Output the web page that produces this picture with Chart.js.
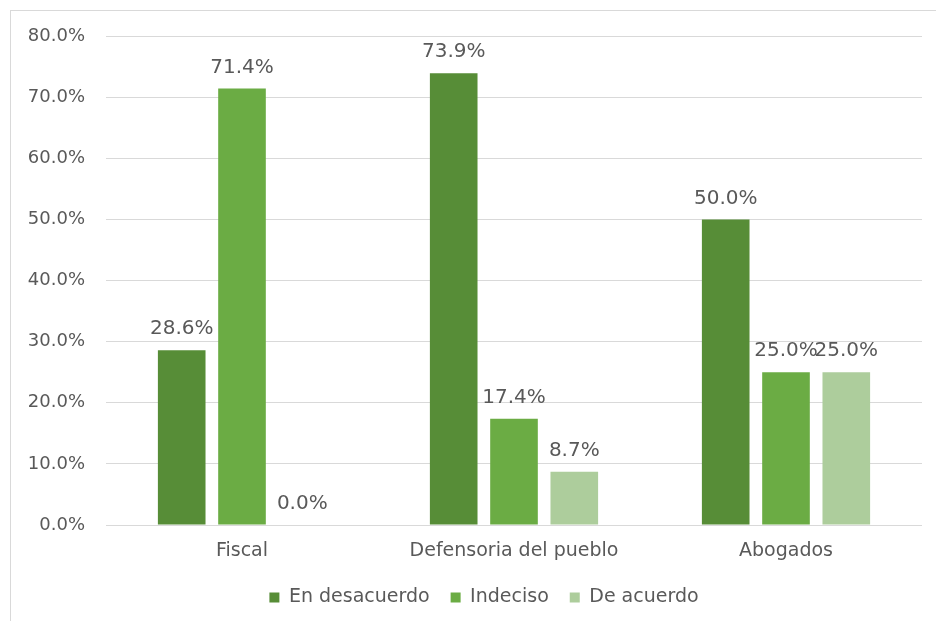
<!DOCTYPE html>
<html>
<head>
<meta charset="utf-8">
<script src="https://cdn.jsdelivr.net/npm/chart.js@4/dist/chart.umd.min.js"></script>
<style>
  html, body { margin: 0; padding: 0; background: #fff; overflow: hidden; }
  #frame { position: absolute; left: 10px; top: 10px; width: 940px; height: 630px; border: 1px solid #d9d9d9; }
  #wrap { position: absolute; left: 0; top: 0; width: 936px; height: 621px; }
</style>
</head>
<body>
<div id="frame"></div>
<div id="wrap"><canvas id="chart"></canvas></div>
<script>
const categories = ['Fiscal', 'Defensoria del pueblo', 'Abogados'];
const enDesacuerdo = [28.6, 73.9, 50.0];
const indeciso = [71.4, 17.4, 25.0];
const deAcuerdo = [0.0, 8.7, 25.0];
const yTicks = [0, 10, 20, 30, 40, 50, 60, 70, 80];

const FONT = 'DejaVu Sans';
const TEXT = '#595959';

// value labels above every bar
const barLabels = {
    id: 'barLabels',
    afterDatasetsDraw(chart) {
        const ctx = chart.ctx;
        ctx.save();
        ctx.font = '20px ' + FONT;
        ctx.fillStyle = TEXT;
        ctx.textAlign = 'center';
        ctx.textBaseline = 'bottom';
        chart.data.datasets.forEach((ds, i) => {
            chart.getDatasetMeta(i).data.forEach((bar, j) => {
                ctx.fillText(ds.data[j].toFixed(1) + '%', bar.x, bar.y - 11);
            });
        });
        ctx.restore();
    }
};

// the legend sits a bit right of centre in the original
const shiftLegend = {
    id: 'shiftLegend',
    afterLayout(chart) {
        if (chart.legend) chart.legend.left = 46;
    }
};

const ctx = document.getElementById('chart').getContext('2d');
new Chart(ctx, {
    type: 'bar',
    data: {
        labels: categories,
        datasets: [
            { label: 'En desacuerdo', data: enDesacuerdo, backgroundColor: '#578d37' },
            { label: 'Indeciso', data: indeciso, backgroundColor: '#6bac44' },
            { label: 'De acuerdo', data: deAcuerdo, backgroundColor: '#adcd9c' }
        ]
    },
    options: {
        responsive: true,
        maintainAspectRatio: false,
        animation: false,
        datasets: { bar: { categoryPercentage: 0.665, barPercentage: 0.79 } },
        layout: { padding: { top: 36, right: 14, bottom: 4, left: 0 } },
        scales: {
            y: {
                min: 0,
                max: 80,
                afterBuildTicks: s => { s.ticks = yTicks.map(v => ({ value: v })); },
                afterFit: s => { s.width = 106; },
                border: { display: false },
                grid: { color: '#d9d9d9', drawTicks: false },
                ticks: {
                    color: TEXT,
                    font: { family: FONT, size: 18 },
                    padding: 21,
                    callback: v => v.toFixed(1) + '%'
                }
            },
            x: {
                afterFit: s => { s.height = 42; },
                border: { display: false },
                grid: { display: false, drawTicks: false },
                ticks: { color: TEXT, font: { family: FONT, size: 19 }, padding: 15 }
            }
        },
        plugins: {
            legend: {
                position: 'bottom',
                labels: {
                    color: TEXT,
                    font: { family: FONT, size: 19, lineHeight: 0.6 },
                    boxWidth: 10,
                    boxHeight: 10,
                    padding: 21
                }
            },
            tooltip: { enabled: false }
        }
    },
    plugins: [barLabels, shiftLegend]
});
</script>
</body>
</html>
